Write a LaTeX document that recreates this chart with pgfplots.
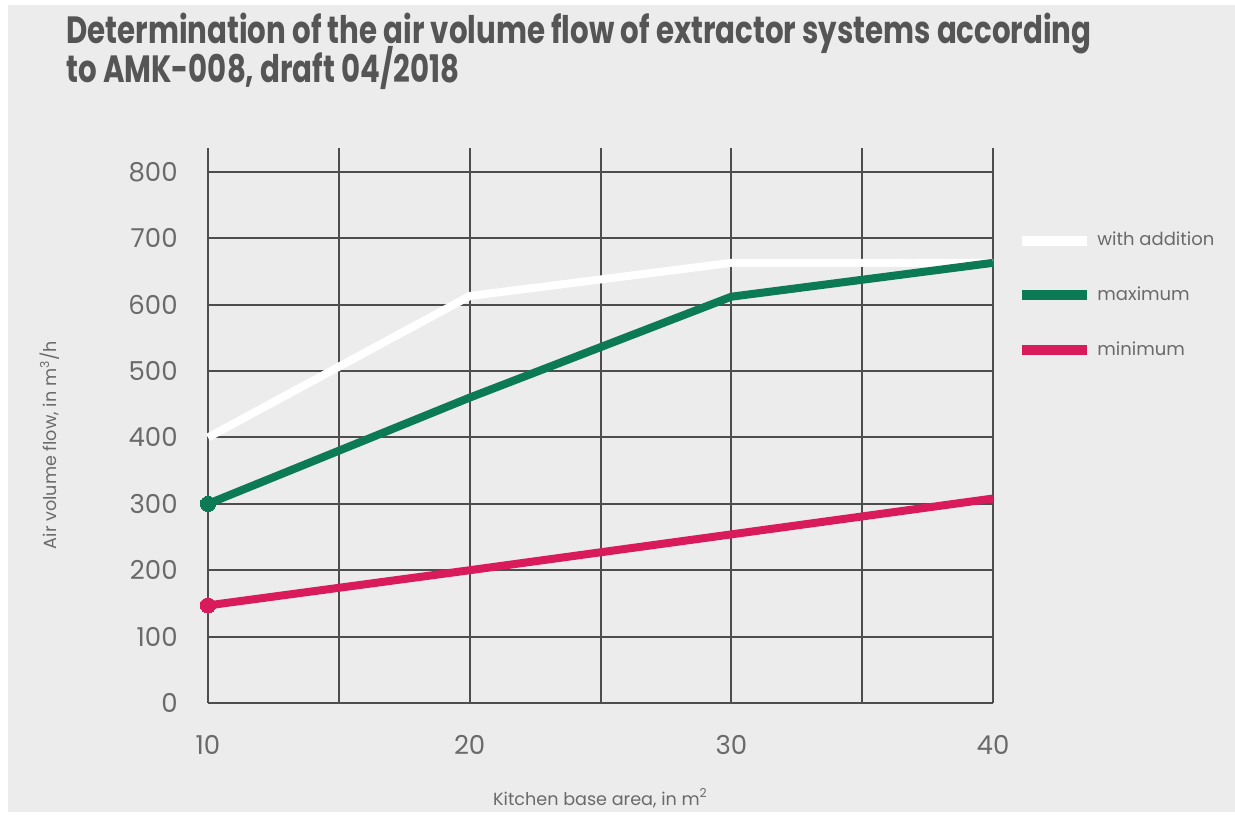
\documentclass[border=0pt]{standalone}
\usepackage{pgfplots}
\pgfplotsset{compat=1.18}
\usepackage{fontspec}
\setmainfont{Poppins}
\newfontfamily\titlefont[FakeStretch=0.77]{Poppins}
\definecolor{bg}{HTML}{ECECEC}
\definecolor{gridc}{HTML}{4D4D4D}
\definecolor{grn}{HTML}{0B7A55}
\definecolor{rd}{HTML}{D91A5B}
\definecolor{txt}{HTML}{6A6A6A}
\definecolor{ttl}{HTML}{555555}
\begin{document}
\begin{tikzpicture}
\fill[white] (0pt,0pt) rectangle (617.5pt,-406pt);
\fill[bg] (4pt,-2.5pt) rectangle (617.5pt,-406pt);
\node[anchor=base west, inner sep=0pt, font=\titlefont\bfseries\fontsize{19}{21}\selectfont, text=ttl] at (33pt,-22pt) {Determination of the air volume flow of extractor systems according};
\node[anchor=base west, inner sep=0pt, font=\titlefont\bfseries\fontsize{19}{21}\selectfont, text=ttl] at (33pt,-41.5pt) {to AMK-008, draft 04/2018};
\begin{axis}[
  at={(104pt,-351.5pt)}, anchor=south west,
  scale only axis, width=392.5pt, height=277.5pt,
  xmin=10, xmax=40, ymin=0, ymax=836,
  axis line style={draw=none},
  clip=false,
  xtick={10,20,30,40}, minor xtick={15,25,35},
  ytick={0,100,...,800},
  grid=both,
  major grid style={draw=gridc, line width=1pt},
  minor grid style={draw=gridc, line width=1pt},
  tick style={draw=none},
  xticklabel style={anchor=center, yshift=-21pt, font=\fontsize{13}{15}\selectfont, text=txt},
  yticklabel style={anchor=east, inner sep=0pt, xshift=-15pt, font=\fontsize{13}{15}\selectfont, text=txt},
  /pgf/number format/assume math mode=true,
  xlabel={Kitchen base area, in m\textsuperscript{2}},
  ylabel={Air volume flow, in m\textsuperscript{3}/h},
  x label style={at={(axis description cs:0.5,-0.171)}, anchor=center, font=\fontsize{8.8}{10}\selectfont, text=txt},
  y label style={at={(axis description cs:-0.2013,0.465)}, anchor=center, rotate=0, font=\fontsize{8.8}{10}\selectfont, text=txt},
  legend style={at={(axis description cs:1.0306,0.849)}, anchor=north west, draw=none, fill=none,
    inner sep=0pt, row sep=19pt, column sep=2.5pt, font=\fontsize{9}{10}\selectfont, text=txt,
    nodes={inner sep=0pt, anchor=west}},
  legend cell align=left,
  legend image code/.code={\draw[#1, line width=5pt] (0pt,0pt) -- (32.5pt,0pt);},
]
\addplot[white, line width=4pt, line join=round] coordinates {(10,400) (20,613) (30,663) (40,663)};
\addlegendentry{with addition}
\addplot[grn, line width=4pt, line join=round, mark=*, mark indices={1}, mark size=3.8pt, mark options={fill=grn, draw=grn, line width=0pt}] coordinates {(10,300) (20,460) (30,612) (40,663)};
\addlegendentry{maximum}
\addplot[rd, line width=4pt, line join=round, mark=*, mark indices={1}, mark size=3.8pt, mark options={fill=rd, draw=rd, line width=0pt}] coordinates {(10,147) (20,200) (30,254) (40,308)};
\addlegendentry{minimum}
\end{axis}
\end{tikzpicture}
\end{document}
